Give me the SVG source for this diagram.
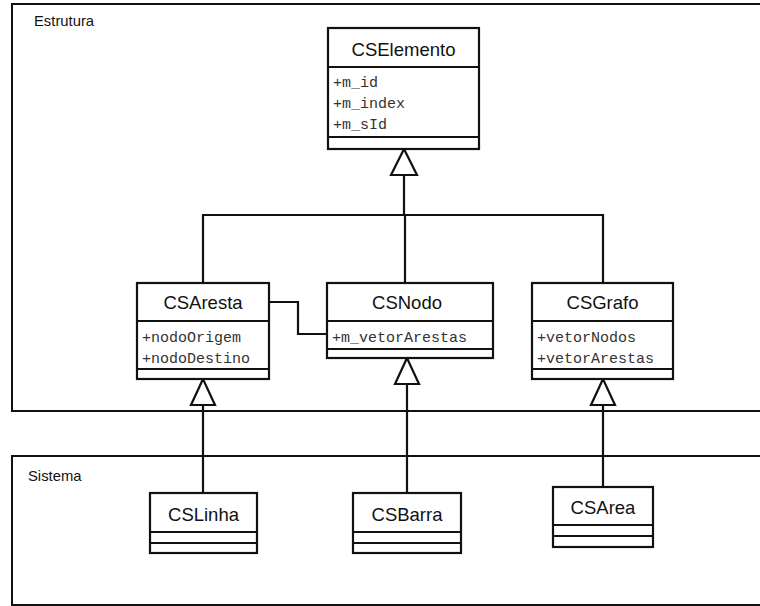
<svg xmlns="http://www.w3.org/2000/svg" width="760" height="606" viewBox="0 0 760 606">
<style>
.pkg{fill:none;stroke:#111;stroke-width:2}
.box{fill:#fff;stroke:#111;stroke-width:2.2}
.sep{stroke:#111;stroke-width:2.2}
.name{font-family:"Liberation Sans",Arial,sans-serif;font-size:18.5px;fill:#111;text-anchor:middle}
.attr{font-family:"Liberation Mono","Courier New",monospace;font-size:15px;fill:#333}
.plabel{font-family:"Liberation Sans",Arial,sans-serif;font-size:14.8px;fill:#111}
.con{fill:none;stroke:#111;stroke-width:2.2}
.tri{fill:#fff;stroke:#111;stroke-width:2.2}
</style>
<rect width="760" height="606" fill="#fff"/>
<g id="pkg-estrutura">
<rect class="pkg" x="12" y="4" width="800" height="407"/>
<text class="plabel" x="34" y="26">Estrutura</text>
</g>
<g id="pkg-sistema">
<rect class="pkg" x="12" y="456" width="800" height="149"/>
<text class="plabel" x="28" y="481">Sistema</text>
</g>
<g id="connectors">
<path class="con" d="M203,283 V215 H603 V283"/>
<path class="con" d="M404,215 V175"/>
<path class="con" d="M405,215 V283"/>
<polygon class="tri" points="404,149 391,175 417,175"/>
<path class="con" d="M269,302 H298 V334 H327"/>
<path class="con" d="M203,405 V493"/>
<polygon class="tri" points="203,379 191,405 215,405"/>
<path class="con" d="M407,384 V493"/>
<polygon class="tri" points="407,358 395,384 419,384"/>
<path class="con" d="M603,405 V487"/>
<polygon class="tri" points="603,379 591,405 615,405"/>
</g>
<g id="CSElemento">
<rect class="box" x="328" y="28" width="151" height="121"/>
<line class="sep" x1="328" y1="67" x2="479" y2="67"/>
<line class="sep" x1="328" y1="137" x2="479" y2="137"/>
<text class="name" x="403.5" y="56">CSElemento</text>
<text class="attr" x="333" y="87">+m_id</text>
<text class="attr" x="333" y="108">+m_index</text>
<text class="attr" x="333" y="129">+m_sId</text>
</g>
<g id="CSAresta">
<rect class="box" x="137" y="283" width="132" height="96"/>
<line class="sep" x1="137" y1="321" x2="269" y2="321"/>
<line class="sep" x1="137" y1="369" x2="269" y2="369"/>
<text class="name" x="203" y="309">CSAresta</text>
<text class="attr" x="142" y="342">+nodoOrigem</text>
<text class="attr" x="142" y="363">+nodoDestino</text>
</g>
<g id="CSNodo">
<rect class="box" x="327" y="283" width="166" height="75"/>
<line class="sep" x1="327" y1="321" x2="493" y2="321"/>
<line class="sep" x1="327" y1="349" x2="493" y2="349"/>
<text class="name" x="407" y="309">CSNodo</text>
<text class="attr" x="332" y="342">+m_vetorArestas</text>
</g>
<g id="CSGrafo">
<rect class="box" x="532" y="283" width="141" height="96"/>
<line class="sep" x1="532" y1="321" x2="673" y2="321"/>
<line class="sep" x1="532" y1="369" x2="673" y2="369"/>
<text class="name" x="602.5" y="309">CSGrafo</text>
<text class="attr" x="537" y="342">+vetorNodos</text>
<text class="attr" x="537" y="363">+vetorArestas</text>
</g>
<g id="CSLinha">
<rect class="box" x="150" y="493" width="107" height="60"/>
<line class="sep" x1="150" y1="532" x2="257" y2="532"/>
<line class="sep" x1="150" y1="543" x2="257" y2="543"/>
<text class="name" x="203.5" y="521">CSLinha</text>
</g>
<g id="CSBarra">
<rect class="box" x="353" y="493" width="108" height="60"/>
<line class="sep" x1="353" y1="532" x2="461" y2="532"/>
<line class="sep" x1="353" y1="543" x2="461" y2="543"/>
<text class="name" x="407" y="521">CSBarra</text>
</g>
<g id="CSArea">
<rect class="box" x="553" y="487" width="100" height="60"/>
<line class="sep" x1="553" y1="525" x2="653" y2="525"/>
<line class="sep" x1="553" y1="536" x2="653" y2="536"/>
<text class="name" x="603" y="514">CSArea</text>
</g>
</svg>
